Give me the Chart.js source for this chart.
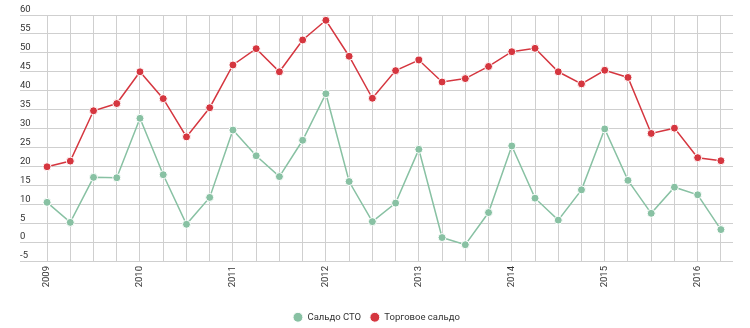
<!DOCTYPE html>
<html>
<head>
<meta charset="utf-8">
<script src="https://cdn.jsdelivr.net/npm/chart.js@4"></script>
<style>
html,body{margin:0;padding:0;background:#fff;}
#wrap{width:750px;height:328px;}
</style>
</head>
<body>
<div id="wrap"><canvas id="c" width="750" height="328"></canvas></div>
<script>
// Quarters 2009 Q1 .. 2016 Q2
const quarters = [
  2009, 2009.25, 2009.5, 2009.75,
  2010, 2010.25, 2010.5, 2010.75,
  2011, 2011.25, 2011.5, 2011.75,
  2012, 2012.25, 2012.5, 2012.75,
  2013, 2013.25, 2013.5, 2013.75,
  2014, 2014.25, 2014.5, 2014.75,
  2015, 2015.25, 2015.5, 2015.75,
  2016, 2016.25
];
const seriesNames = ["Сальдо СТО", "Торговое сальдо"];
const saldoSTO = [
  10.5, 5.2, 17.1, 17.0,
  32.7, 17.8, 4.7, 11.8,
  29.6, 22.8, 17.3, 26.9,
  39.2, 16.0, 5.4, 10.3,
  24.5, 1.2, -0.7, 7.8,
  25.4, 11.6, 5.8, 13.8,
  29.9, 16.3, 7.6, 14.5,
  12.5, 3.3
];
const tradeSaldo = [
  19.9, 21.4, 34.7, 36.6,
  45.0, 37.9, 27.8, 35.5,
  46.8, 51.1, 45.0, 53.4,
  58.6, 49.1, 38.0, 45.3,
  48.1, 42.3, 43.2, 46.4,
  50.3, 51.2, 45.0, 41.8,
  45.4, 43.5, 28.7, 30.1,
  22.3, 21.5
];
const yTicks = [-5, 0, 5, 10, 15, 20, 25, 30, 35, 40, 45, 50, 55, 60];

const green = '#88c1a3';
const red = '#d5363f';
const toPts = arr => arr.map((v, i) => ({x: quarters[i], y: v}));

const legendShift = {
  id: 'legendShift',
  afterLayout(chart) {
    if (chart.legend) { chart.legend.top += 4; chart.legend.bottom += 4; }
  }
};

new Chart(document.getElementById('c'), {
  type: 'line',
  plugins: [legendShift],
  data: {
    datasets: [
      {
        label: seriesNames[0],
        data: toPts(saldoSTO),
        borderColor: green,
        backgroundColor: green,
        borderWidth: 1.5,
        pointRadius: 4,
        pointBorderWidth: 1,
        pointBorderColor: '#ffffff',
        pointBackgroundColor: green,
        tension: 0
      },
      {
        label: seriesNames[1],
        data: toPts(tradeSaldo),
        borderColor: red,
        backgroundColor: red,
        borderWidth: 1.5,
        pointRadius: 4,
        pointBorderWidth: 1,
        pointBorderColor: '#ffffff',
        pointBackgroundColor: red,
        tension: 0
      }
    ]
  },
  options: {
    responsive: false,
    animation: false,
    layout: {padding: {left: 20, right: 17, top: 15, bottom: 0}},
    plugins: {
      tooltip: {enabled: false},
      legend: {
        position: 'bottom',
        labels: {
          usePointStyle: true,
          pointStyle: 'circle',
          boxWidth: 10,
          boxHeight: 7,
          padding: 9,
          color: '#333',
          font: {family: 'Roboto', size: 9.5}
        }
      }
    },
    scales: {
      x: {
        type: 'linear',
        min: 2008.709,
        max: 2016.38,
        afterBuildTicks: s => { s.ticks = quarters.map(v => ({value: v})); },
        afterFit: s => { s.height = 38.5; },
        grid: {color: '#cfcfcf', drawTicks: false, lineWidth: 1},
        border: {display: false},
        ticks: {
          autoSkip: false,
          maxRotation: 90,
          minRotation: 90,
          padding: 5,
          color: '#333',
          font: {family: 'Roboto', size: 9.5},
          callback: v => Number.isInteger(v) ? String(v) : ''
        }
      },
      y: {
        min: -5,
        max: 60,
        afterBuildTicks: s => { s.ticks = yTicks.map(v => ({value: v})); },
        grid: {color: '#cfcfcf', drawTicks: false, lineWidth: 1},
        border: {display: false},
        ticks: {
          mirror: true,
          padding: 0,
          labelOffset: -5,
          color: '#333',
          font: {family: 'Roboto', size: 9.5}
        }
      }
    }
  }
});
</script>
</body>
</html>
